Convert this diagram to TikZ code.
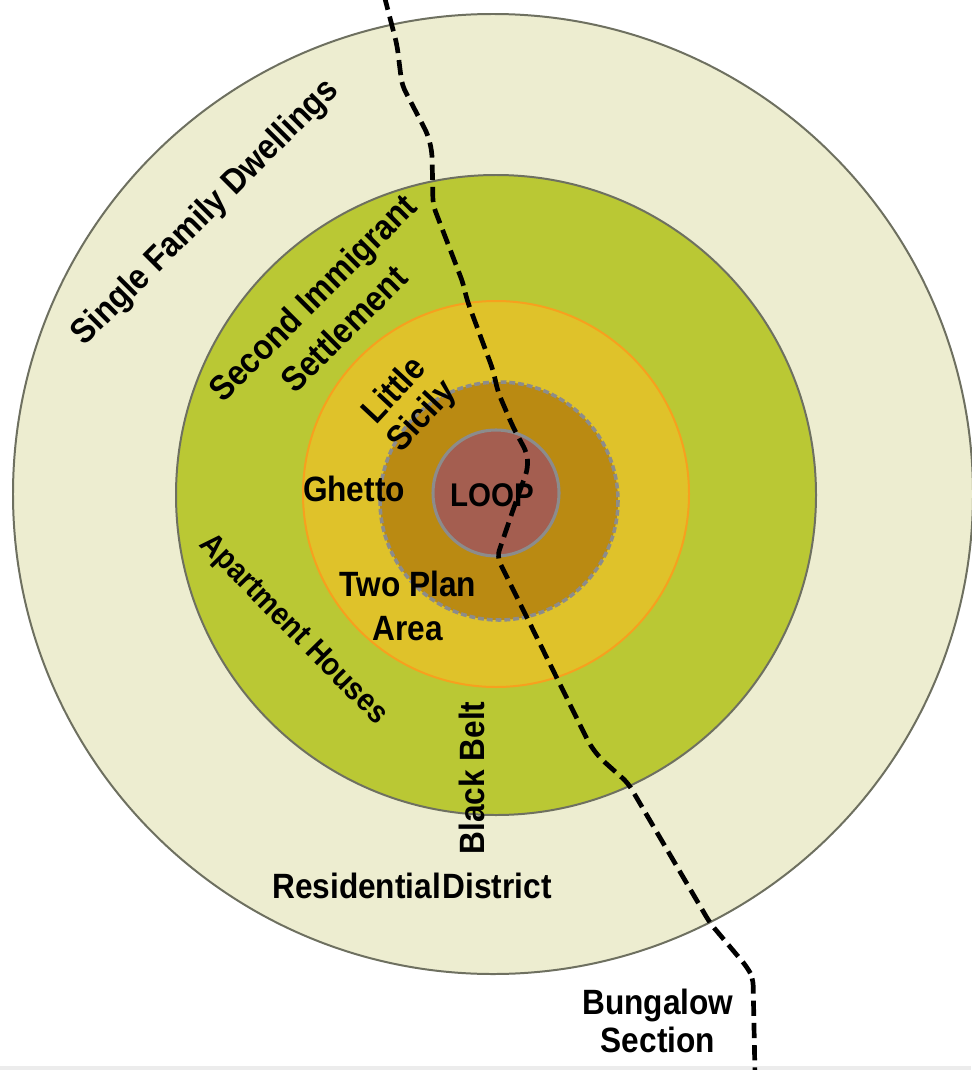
\documentclass[tikz,border=0pt]{standalone}
\usepackage{fontspec}
\setmainfont{Liberation Sans}
\newfontfamily\zonefont[FakeStretch=0.9]{Liberation Sans}

\definecolor{outerzone}{RGB}{237,237,208}
\definecolor{greenzone}{RGB}{186,200,52}
\definecolor{yellowzone}{RGB}{223,194,42}
\definecolor{brownzone}{RGB}{186,138,18}
\definecolor{loopzone}{RGB}{164,94,80}
\definecolor{ringline}{RGB}{110,112,96}
\definecolor{orangeline}{RGB}{247,160,30}
\definecolor{greyline}{RGB}{140,140,140}

\begin{document}
\begin{tikzpicture}[x=0.03cm, y=-0.03cm,
    lbl/.style={font=\zonefont\bfseries\fontsize{30}{38}\selectfont, align=center, inner sep=0pt}]
    \useasboundingbox (0,0) rectangle (971,1070);
    \fill[white] (0,0) rectangle (971,1070);
    \fill[gray!15] (0,1066) rectangle (971,1070);

    \draw[ringline, line width=1.7pt, fill=outerzone] (493,494) circle (480);
    \draw[ringline, line width=1.7pt, fill=greenzone] (496,495) circle (320);
    \draw[orangeline, line width=1.7pt, fill=yellowzone] (496,494) circle (193);
    \draw[greyline, line width=3pt, dash pattern=on 5pt off 2.5pt, fill=brownzone] (499,501) circle (119);
    \draw[greyline, line width=2.6pt, fill=loopzone] (496,493) circle (63);

    \node[lbl, rotate=45] (sfd) at (206,213) {Single Family Dwellings};
    \node[lbl, rotate=45] (sis) at (328,313) {Second Immigrant\\Settlement};
    \node[lbl, rotate=47, font=\zonefont\bfseries\fontsize{30}{32}\selectfont] (ls) at (409,404) {Little\\Sicily};
    \node[lbl] (ghetto) at (354,489) {Ghetto};
    \node[lbl, font=\zonefont\bfseries\fontsize{28}{30}\selectfont] (loop) at (492,495) {LOOP};
    \node[lbl] (tpa) at (408,606) {Two Plan\\Area};
    \node[lbl, rotate=-45.5, font=\zonefont\bfseries\fontsize{27}{30}\selectfont] (ah) at (293,630) {Apartment Houses};
    \node[lbl, rotate=90] (bb) at (472,778) {Black Belt};
    \node[lbl] (rd) at (412,886) {Residential\hspace{0.05em}District};
    \node[lbl, font=\zonefont\bfseries\fontsize{30}{33}\selectfont] (bs) at (658,1021) {Bungalow\\Section};

    \draw[black, line width=4pt, dash pattern=on 13pt off 6pt, rounded corners=6pt]
        (384,-5) -- (397,45) -- (402,85) -- (428,135) -- (432,152) -- (433,205)
        -- (463,283) -- (467,300) -- (493,370) -- (498,392) -- (513,427)
        -- (527,453) -- (528,468) -- (513,510) -- (497,557) -- (590,745)
        -- (600,758) -- (628,783) -- (710,923) -- (747,967) -- (753,978)
        -- (755,1075);
\end{tikzpicture}
\end{document}
